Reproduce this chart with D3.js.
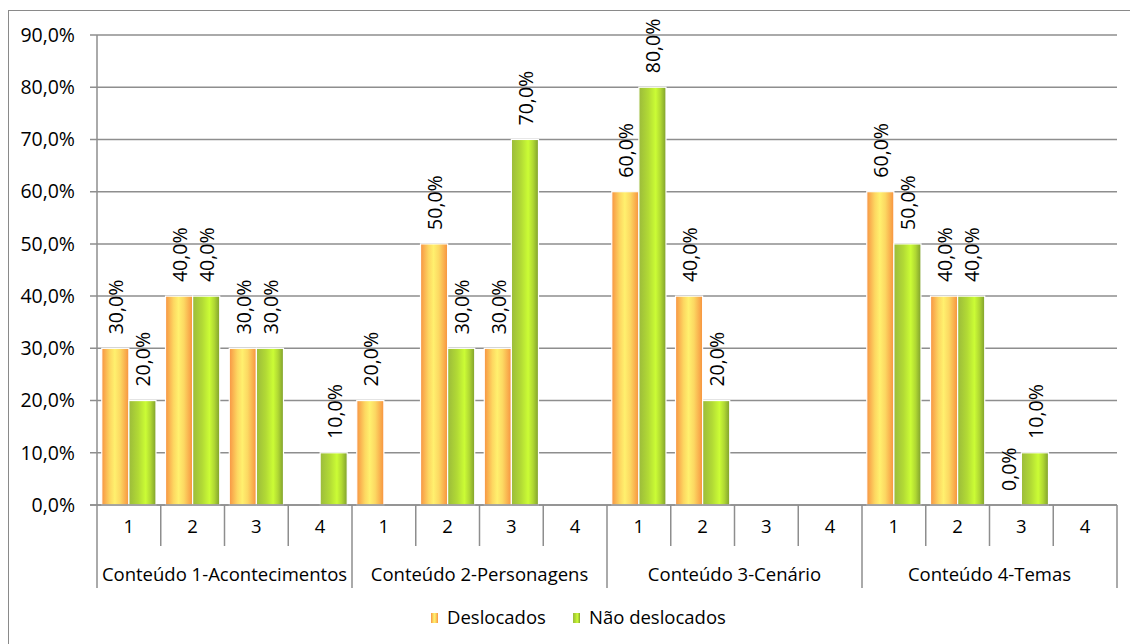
<!DOCTYPE html>
<html>
<head>
<meta charset="utf-8">
<script src="https://cdn.jsdelivr.net/npm/d3@7"></script>
<style>
  html, body { margin: 0; padding: 0; background: #fff; }
  svg { display: block; font-family: "Open Sans", "Noto Sans", sans-serif; }
</style>
</head>
<body>
<svg id="chart" width="1130" height="644"></svg>
<script>
// Content groups and their four sub-items
const groups = ["Conteúdo 1-Acontecimentos", "Conteúdo 2-Personagens", "Conteúdo 3-Cenário", "Conteúdo 4-Temas"];
const subItems = ["1", "2", "3", "4"];
const seriesNames = ["Deslocados", "Não deslocados"];

// Percentages per (group, sub-item); null = no value recorded
const deslocados    = [30, 40, 30, null,   20, 50, 30, null,   60, 40, null, null,   60, 40, 0, null];
const naoDeslocados = [20, 40, 30, 10,     null, 30, 70, null, 80, 20, null, null,   50, 40, 10, null];

const yTicks = [0, 10, 20, 30, 40, 50, 60, 70, 80, 90];

const svg = d3.select("#chart");
const W = 1130, H = 644;
const plot = { left: 97, right: 1117, top: 35, bottom: 505 };
const fontSize = 18.5;
const numSize = 19.5;
const axisColor = "#8e8e8e";

// outer chart frame
svg.append("rect")
  .attr("x", 8.5).attr("y", 10.5)
  .attr("width", W + 10).attr("height", H + 10)
  .attr("fill", "none").attr("stroke", "#8a8a8a").attr("stroke-width", 1);

// gradients for the bars
const defs = svg.append("defs");
const gradOrange = defs.append("linearGradient").attr("id", "gOrange")
  .attr("x1", "0%").attr("x2", "100%").attr("y1", "0%").attr("y2", "0%");
[[0, "#f79443"], [0.3, "#fdd761"], [0.48, "#fff06e"], [0.68, "#fcd862"], [1, "#f7923f"]]
  .forEach(([o, c]) => gradOrange.append("stop").attr("offset", o).attr("stop-color", c));
const gradGreen = defs.append("linearGradient").attr("id", "gGreen")
  .attr("x1", "0%").attr("x2", "100%").attr("y1", "0%").attr("y2", "0%");
[[0, "#9bbb3b"], [0.35, "#b2da35"], [0.62, "#cbfc35"], [0.8, "#b0d833"], [1, "#7f9f2d"]]
  .forEach(([o, c]) => gradGreen.append("stop").attr("offset", o).attr("stop-color", c));
const fills = ["url(#gOrange)", "url(#gGreen)"];

// scales
const keys = [];
groups.forEach((g, gi) => subItems.forEach(s => keys.push(gi + "-" + s)));
const x0 = d3.scaleBand().domain(keys).range([plot.left, plot.right]).padding(0);
const x1 = d3.scaleBand().domain(seriesNames).range([0, x0.bandwidth()])
  .paddingInner(0).paddingOuter(0.176);
const y = d3.scaleLinear().domain([0, 90]).range([plot.bottom, plot.top]);

// horizontal gridlines
svg.append("g").selectAll("line").data(yTicks).join("line")
  .attr("x1", plot.left - 7).attr("x2", plot.right)
  .attr("y1", d => y(d)).attr("y2", d => y(d))
  .attr("stroke", axisColor).attr("stroke-width", 1.5);

// y axis line
svg.append("line")
  .attr("x1", plot.left).attr("x2", plot.left)
  .attr("y1", plot.top).attr("y2", plot.bottom)
  .attr("stroke", axisColor).attr("stroke-width", 1.5);

// y tick labels
const fmt = v => d3.format(".1f")(v).replace(".", ",") + "%";
svg.append("g").selectAll("text").data(yTicks).join("text")
  .attr("x", plot.left - 22).attr("y", d => y(d))
  .attr("dy", "0.35em")
  .attr("text-anchor", "end")
  .attr("font-size", numSize).attr("fill", "#000")
  .text(fmt);

// bars
const seriesData = [deslocados, naoDeslocados];
const barsG = svg.append("g");
seriesData.forEach((vals, si) => {
  const data = vals.map((v, i) => ({ key: keys[i], v })).filter(d => d.v !== null);
  barsG.append("g").selectAll("rect").data(data).join("rect")
    .attr("x", d => x0(d.key) + x1(seriesNames[si]))
    .attr("y", d => y(d.v))
    .attr("width", x1.bandwidth())
    .attr("height", d => y(0) - y(d.v))
    .attr("fill", fills[si])
    .attr("stroke", "#fff").attr("stroke-width", 1.2);

  // value labels, rotated upward above the bars
  barsG.append("g").selectAll("text").data(data).join("text")
    .attr("transform", d => {
      const cx = x0(d.key) + x1(seriesNames[si]) + x1.bandwidth() / 2 + 1;
      return `translate(${cx},${y(d.v) - 14}) rotate(-90)`;
    })
    .attr("dy", "0.35em")
    .attr("text-anchor", "start")
    .attr("font-size", numSize).attr("fill", "#000")
    .text(d => fmt(d.v));
});

// x axis line
svg.append("line")
  .attr("x1", plot.left - 7).attr("x2", plot.right)
  .attr("y1", plot.bottom).attr("y2", plot.bottom)
  .attr("stroke", axisColor).attr("stroke-width", 1.5);

// sub-item separators and labels
const subTickBottom = 546, groupTickBottom = 588;
svg.append("g").selectAll("line").data(keys.slice(1)).join("line")
  .filter((d, i) => (i + 1) % 4 !== 0)
  .attr("x1", d => x0(d)).attr("x2", d => x0(d))
  .attr("y1", plot.bottom).attr("y2", subTickBottom)
  .attr("stroke", axisColor).attr("stroke-width", 1.5);

svg.append("g").selectAll("text").data(keys).join("text")
  .attr("x", d => x0(d) + x0.bandwidth() / 2)
  .attr("y", 527).attr("dy", "0.35em")
  .attr("text-anchor", "middle")
  .attr("font-size", fontSize).attr("fill", "#000")
  .text(d => d.split("-")[1]);

// group separators and labels
const groupEdges = d3.range(groups.length + 1).map(i => plot.left + i * 4 * x0.bandwidth());
svg.append("g").selectAll("line").data(groupEdges).join("line")
  .attr("x1", d => d).attr("x2", d => d)
  .attr("y1", plot.bottom).attr("y2", groupTickBottom)
  .attr("stroke", axisColor).attr("stroke-width", 1.5);

svg.append("g").selectAll("text").data(groups).join("text")
  .attr("x", (d, i) => (groupEdges[i] + groupEdges[i + 1]) / 2)
  .attr("y", 575).attr("dy", "0.35em")
  .attr("text-anchor", "middle")
  .attr("font-size", fontSize).attr("fill", "#000")
  .text(d => d);

// legend
const legend = svg.append("g");
const legendItems = [{ name: seriesNames[0], x: 431 }, { name: seriesNames[1], x: 573 }];
legendItems.forEach((it, i) => {
  legend.append("rect")
    .attr("x", it.x).attr("y", 613).attr("width", 7).attr("height", 10)
    .attr("fill", fills[i]);
  legend.append("text")
    .attr("x", it.x + 16).attr("y", 618).attr("dy", "0.35em")
    .attr("font-size", fontSize).attr("fill", "#000")
    .text(it.name);
});
</script>
</body>
</html>
